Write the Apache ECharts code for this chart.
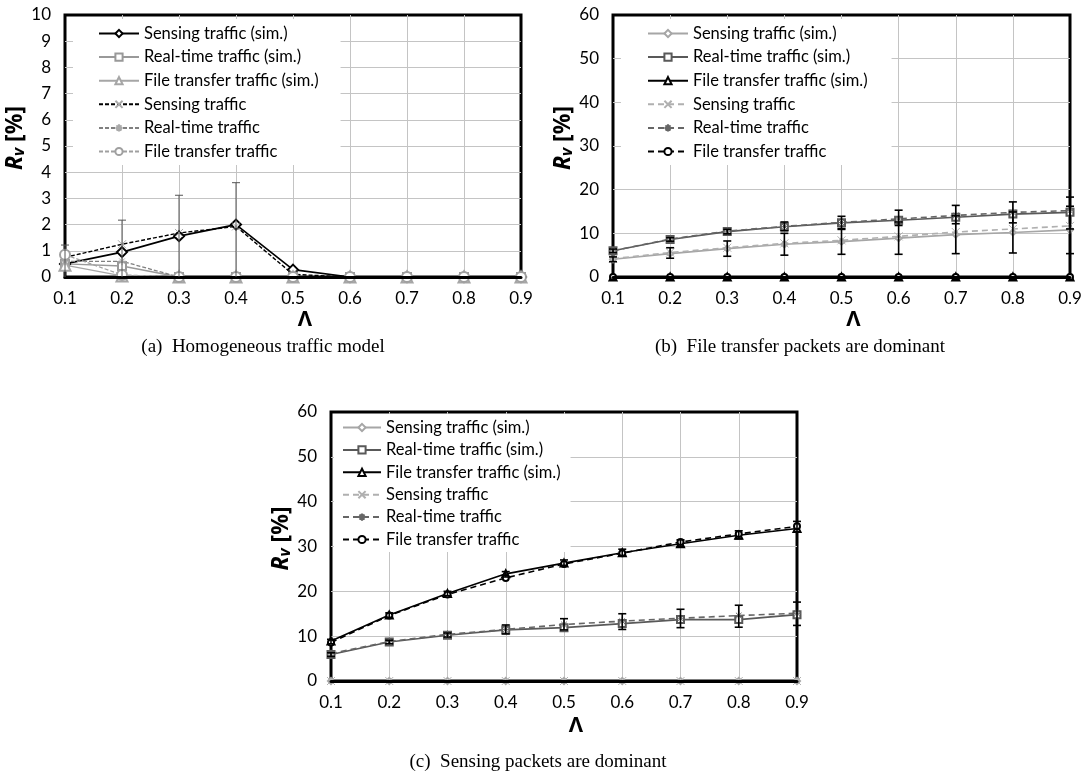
<!DOCTYPE html>
<html>
<head>
<meta charset="utf-8">
<script src="https://cdn.jsdelivr.net/npm/echarts@6/dist/echarts.min.js"></script>
<style>
html,body{margin:0;padding:0;background:#fff}
#chart{width:1083px;height:775px}
</style>
</head>
<body>
<div id="chart"></div>
<script>
// x categories (offered load)
var lambdaLabels = ['0.1','0.2','0.3','0.4','0.5','0.6','0.7','0.8','0.9'];
var legendNames = ['Sensing traffic (sim.)','Real-time traffic (sim.)','File transfer traffic (sim.)',
                   'Sensing traffic','Real-time traffic','File transfer traffic'];

// (a) homogeneous traffic model
var aSensSim = [0.5, 0.95, 1.56, 2.0, 0.28, 0, 0, 0, 0];
var aRealSim = [0.5, 0.42, 0, 0, 0, 0, 0, 0, 0];
var aFileSim = [0.45, 0.04, 0, 0, 0, 0, 0, 0, 0];
var aSensAna = [0.75, 1.25, 1.68, 1.93, 0.1, 0, 0, 0, 0];
var aRealAna = [0.6, 0.6, 0, 0, 0, 0, 0, 0, 0];
var aFileAna = [0.85, 0.08, 0, 0, 0, 0, 0, 0, 0];
var aErrLow  = [0, 0, 0, 0];
var aErrHigh = [1.22, 2.17, 3.12, 3.6];

// (b) file transfer packets dominant
var bSensSim = [4.05, 5.35, 6.5, 7.5, 8.1, 8.9, 9.7, 10.2, 10.8];
var bRealSim = [6.0, 8.6, 10.4, 11.5, 12.4, 13.0, 13.7, 14.4, 14.8];
var bFileSim = [0, 0, 0, 0, 0, 0, 0, 0, 0];
var bSensAna = [4.2, 5.6, 6.7, 7.7, 8.4, 9.3, 10.3, 11.0, 11.7];
var bRealAna = [6.0, 8.7, 10.5, 11.6, 12.5, 13.3, 14.1, 14.8, 15.2];
var bFileAna = [0, 0, 0, 0, 0, 0, 0, 0, 0];
var bSensErrLow  = [3.5, 4.3, 4.75, 5.0, 5.2, 5.2, 5.35, 5.5, 5.35];
var bSensErrHigh = [4.6, 6.7, 8.25, 10.0, 10.9, 12.6, 14.0, 14.9, 16.2];
var bRealErrLow  = [5.6, 8.2, 9.9, 10.6, 11.1, 11.8, 12.2, 12.4, 11.0];
var bRealErrHigh = [6.4, 9.0, 10.9, 12.6, 13.9, 15.3, 16.4, 17.2, 18.3];

// (c) sensing packets dominant
var cSensSim = [0, 0, 0, 0, 0, 0, 0, 0, 0];
var cRealSim = [5.9, 8.7, 10.2, 11.4, 11.9, 12.8, 13.7, 13.7, 14.8];
var cFileSim = [8.9, 14.7, 19.5, 23.9, 26.3, 28.6, 30.6, 32.5, 34.0];
var cSensAna = [0, 0, 0, 0, 0, 0, 0, 0, 0];
var cRealAna = [6.1, 8.8, 10.4, 11.5, 12.6, 13.35, 14.0, 14.6, 15.1];
var cFileAna = [8.6, 14.6, 19.3, 23.0, 26.1, 28.5, 31.0, 32.8, 34.5];
var cRealErrLow  = [5.5, 8.3, 9.8, 10.5, 11.4, 11.5, 11.9, 12.0, 12.4];
var cRealErrHigh = [6.3, 9.1, 10.7, 12.5, 13.9, 15.0, 16.0, 16.9, 17.6];
var cFileErrLow  = [8.3, 14.2, 19.0, 23.2, 25.8, 28.0, 30.0, 31.7, 33.3];
var cFileErrHigh = [9.3, 15.2, 20.0, 24.4, 27.0, 29.4, 31.5, 33.5, 35.6];

var xMark = 'path://M0,0L10,10M10,0L0,10';
var starMark = 'path://M5,0L5,10M0,5L10,5M1.5,1.5L8.5,8.5M8.5,1.5L1.5,8.5';
var txtFont = 'Lato';

var chart = echarts.init(document.getElementById('chart'));

function line(panel, g, name, data, color, dash, symbol, size, width, mcolor) {
    var mc = mcolor || color;
    return {
        name: panel + ':' + name, type: 'line', xAxisIndex: g, yAxisIndex: g,
        data: data, symbol: symbol, symbolSize: size,
        lineStyle: {color: color, width: width, type: dash},
        itemStyle: {color: mc, borderColor: mc, borderWidth: 1},
        z: 2
    };
}

function errBars(g, lo, hi, color, lw) {
    return {
        type: 'custom', xAxisIndex: g, yAxisIndex: g, z: 4,
        data: lo.map(function (v, i) { return [i, v, hi[i]]; }),
        encode: {x: 0, y: [1, 2]},
        renderItem: function (params, api) {
            var i = api.value(0);
            var pLo = api.coord([i, api.value(1)]);
            var pHi = api.coord([i, api.value(2)]);
            var bottom = params.coordSys.y + params.coordSys.height;
            var yLo = Math.min(pLo[1], bottom);
            var st = {stroke: color, lineWidth: lw};
            var kids = [
                {type: 'line', shape: {x1: pHi[0], y1: yLo, x2: pHi[0], y2: pHi[1]}, style: st},
                {type: 'line', shape: {x1: pHi[0] - 4, y1: pHi[1], x2: pHi[0] + 4, y2: pHi[1]}, style: st}
            ];
            if (pLo[1] < bottom) {
                kids.push({type: 'line', shape: {x1: pLo[0] - 4, y1: pLo[1], x2: pLo[0] + 4, y2: pLo[1]}, style: st});
            }
            return {type: 'group', children: kids};
        }
    };
}

var dashA = [4, 2], dashB = [6, 4];
var series = [
    // (a)
    line('a', 0, legendNames[0], aSensSim, '#000', 'solid', 'emptyDiamond', 10, 1.6),
    line('a', 0, legendNames[1], aRealSim, '#999', 'solid', 'emptyRect', 8, 1.3),
    line('a', 0, legendNames[2], aFileSim, '#a6a6a6', 'solid', 'emptyTriangle', 11, 1.3),
    line('a', 0, legendNames[3], aSensAna, '#000', dashA, xMark, 8, 1.4, '#aaa'),
    line('a', 0, legendNames[4], aRealAna, '#808080', dashA, starMark, 8, 1.3, '#aaa'),
    line('a', 0, legendNames[5], aFileAna, '#a0a0a0', dashA, 'emptyCircle', 10, 1.3),
    errBars(0, aErrLow, aErrHigh, '#555', 1),
    // (b)
    line('b', 1, legendNames[0], bSensSim, '#a6a6a6', 'solid', 'emptyDiamond', 6, 1.6),
    line('b', 1, legendNames[1], bRealSim, '#595959', 'solid', 'emptyRect', 7, 1.6),
    line('b', 1, legendNames[2], bFileSim, '#000', 'solid', 'emptyTriangle', 7, 1.6),
    line('b', 1, legendNames[3], bSensAna, '#b0b0b0', dashB, xMark, 8, 1.6),
    line('b', 1, legendNames[4], bRealAna, '#666', dashB, starMark, 8, 1.6),
    line('b', 1, legendNames[5], bFileAna, '#000', dashB, 'emptyCircle', 6, 1.6),
    errBars(1, bSensErrLow, bSensErrHigh, '#000', 1.6),
    errBars(1, bRealErrLow, bRealErrHigh, '#000', 1.6),
    // (c)
    line('c', 2, legendNames[0], cSensSim, '#a6a6a6', 'solid', 'emptyDiamond', 6, 1.6),
    line('c', 2, legendNames[1], cRealSim, '#595959', 'solid', 'emptyRect', 7, 1.6),
    line('c', 2, legendNames[2], cFileSim, '#000', 'solid', 'emptyTriangle', 7, 1.6),
    line('c', 2, legendNames[3], cSensAna, '#b0b0b0', dashB, xMark, 8, 1.6),
    line('c', 2, legendNames[4], cRealAna, '#666', dashB, starMark, 8, 1.6),
    line('c', 2, legendNames[5], cFileAna, '#000', dashB, 'emptyCircle', 6, 1.6),
    errBars(2, cRealErrLow, cRealErrHigh, '#000', 1.6),
    errBars(2, cFileErrLow, cFileErrHigh, '#000', 1.6)
];

var grids = [
    {left: 65, top: 15, width: 456, height: 262},
    {left: 613, top: 15, width: 457, height: 262},
    {left: 331, top: 412, width: 466, height: 269}
].map(function (g) {
    g.show = true; g.borderColor = '#000'; g.borderWidth = 3;
    g.outerBoundsMode = 'none'; g.containLabel = false;
    return g;
});

var gridLine = {show: true, showMinLine: false, showMaxLine: false, lineStyle: {color: '#c4c4c4', width: 1}};
var labelStyle = {color: '#000', fontFamily: txtFont, fontSize: 17};

var xAxes = [], yAxes = [];
var yMax = [10, 60, 60], yStep = [1, 10, 10], xNameGap = [32, 32, 34], yNameGap = [35, 35, 34];
for (var g = 0; g < 3; g++) {
    xAxes.push({
        type: 'category', gridIndex: g, data: lambdaLabels, boundaryGap: false,
        axisLine: {show: false}, axisTick: {show: false},
        axisLabel: Object.assign({margin: 13, interval: 0}, labelStyle),
        splitLine: Object.assign({interval: 0}, gridLine),
        name: 'Λ', nameLocation: 'middle', nameGap: xNameGap[g],
        nameTextStyle: {color: '#000', fontFamily: 'Open Sans', fontWeight: 'bold', fontSize: 22, padding: [0, 0, 0, 24]}
    });
    yAxes.push({
        type: 'value', gridIndex: g, min: 0, max: yMax[g], interval: yStep[g],
        axisLine: {show: false}, axisTick: {show: false},
        axisLabel: Object.assign({margin: 14}, labelStyle),
        splitLine: gridLine,
        name: '{r|R}{v|v}{p| [%]}', nameLocation: 'middle', nameGap: yNameGap[g],
        nameTextStyle: {
            color: '#000', padding: [0, 0, 0, 16],
            rich: {
                r: {fontFamily: 'Open Sans', fontStyle: 'italic', fontWeight: 'bold', fontSize: 23, color: '#000'},
                v: {fontFamily: 'Open Sans', fontStyle: 'italic', fontWeight: 'bold', fontSize: 16, color: '#000', verticalAlign: 'bottom', padding: [8, 0, 0, 0]},
                p: {fontFamily: 'Open Sans', fontWeight: 'bold', fontSize: 23, color: '#000'}
            }
        }
    });
}
// bottom frame edge drawn above the zero-valued series
for (var g2 = 0; g2 < 3; g2++) {
    xAxes.push({
        type: 'category', gridIndex: g2, data: lambdaLabels, boundaryGap: false, position: 'bottom', z: 3,
        axisLine: {show: true, onZero: false, lineStyle: {color: '#000', width: 3}},
        axisTick: {show: false}, axisLabel: {show: false}, splitLine: {show: false}
    });
}

function legendFor(panel, pos) {
    return Object.assign({
        orient: 'vertical', selectedMode: false, backgroundColor: '#fff',
        itemWidth: 40, itemHeight: 9,
        data: legendNames.map(function (n) { return panel + ':' + n; }),
        formatter: function (name) { return name.slice(2); },
        textStyle: {color: '#000', fontFamily: txtFont, fontSize: 16.5, lineHeight: 14}
    }, pos);
}

var captionFont = '19px "Liberation Serif"';

chart.setOption({
    animation: false,
    backgroundColor: '#fff',
    grid: grids,
    xAxis: xAxes,
    yAxis: yAxes,
    legend: [
        legendFor('a', {left: 73, top: 19, itemGap: 6.6, padding: [6, 22, 5, 25]}),
        legendFor('b', {left: 621, top: 19, itemGap: 6.6, padding: [6, 24, 5, 26]}),
        legendFor('c', {left: 334, top: 414, itemGap: 5.4, padding: [5, 10, 4, 8], itemWidth: 38})
    ],
    graphic: [
        {type: 'text', x: 263, y: 347, style: {text: '(a)  Homogeneous traffic model', font: captionFont, fill: '#000', textAlign: 'center', textVerticalAlign: 'middle'}},
        {type: 'text', x: 800, y: 347, style: {text: '(b)  File transfer packets are dominant', font: captionFont, fill: '#000', textAlign: 'center', textVerticalAlign: 'middle'}},
        {type: 'text', x: 538, y: 762, style: {text: '(c)  Sensing packets are dominant', font: captionFont, fill: '#000', textAlign: 'center', textVerticalAlign: 'middle'}}
    ],
    series: series
});
</script>
</body>
</html>
